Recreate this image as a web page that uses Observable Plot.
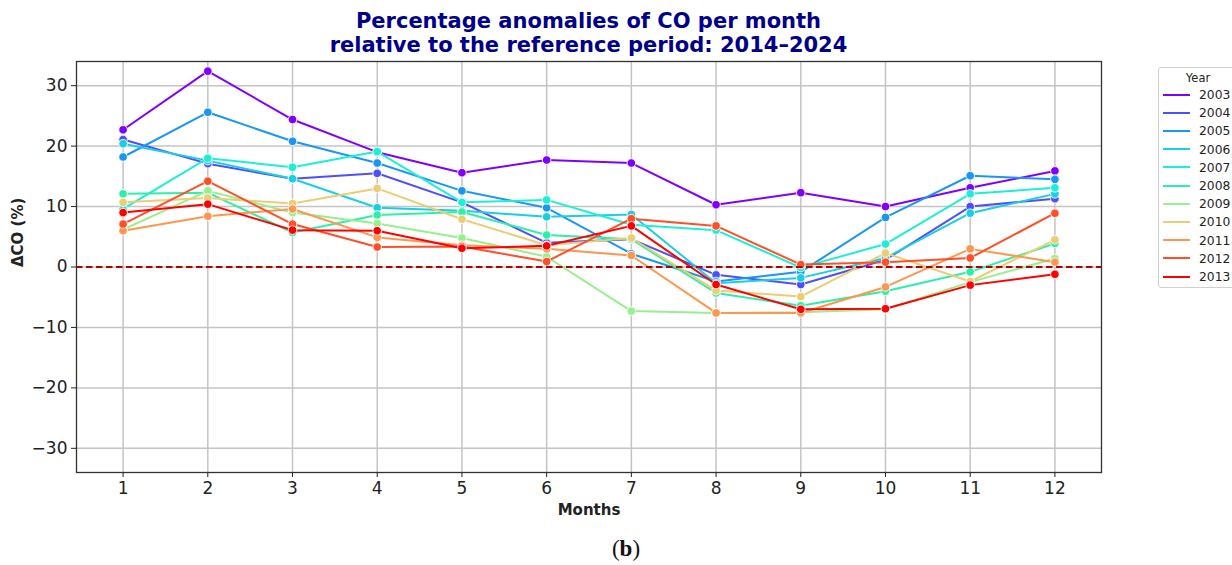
<!DOCTYPE html>
<html>
<head>
<meta charset="utf-8">
<script src="https://cdn.jsdelivr.net/npm/d3@7"></script>
<script src="https://cdn.jsdelivr.net/npm/@observablehq/plot@0.6"></script>
<style>
  html, body { margin: 0; padding: 0; background: #fff; }
  #wrap { position: relative; width: 1232px; height: 565px; overflow: hidden; font-family: "DejaVu Sans", sans-serif; }
  #title { position: absolute; top: 9px; left: 76px; width: 1025px; text-align: center; color: #00008b; font-weight: bold; font-size: 21px; line-height: 24px; }
  #chart { position: absolute; top: 58px; left: 0; }
  #legend { position: absolute; left: 1158px; top: 67px; width: 90px; height: 221px; border: 1px solid #d0d0d0; border-radius: 3px; background: #fff; box-sizing: border-box; }
  #legend .ttl { position: absolute; left: 0; width: 78px; top: 3px; text-align: center; font-size: 11.5px; color: #222; }
  #legend .item { position: absolute; left: 4px; height: 14px; font-size: 12.3px; color: #222; line-height: 14px; }
  #legend .sw { display: inline-block; width: 27px; height: 2px; vertical-align: middle; margin-right: 9px; position: relative; top: -1px; }
  #caption { position: absolute; top: 536px; left: 0; width: 1252px; text-align: center; font-family: "Liberation Serif", "Times New Roman", serif; font-size: 23px; color: #111; }
</style>
</head>
<body>
<div id="wrap">
  <div id="title">Percentage anomalies of CO per month<br>relative to the reference period: 2014–2024</div>
  <div id="chart"></div>
  <div id="legend"></div>
  <div id="caption">(<b>b</b>)</div>
</div>
<script>
// ---- data ----
const months = [1, 2, 3, 4, 5, 6, 7, 8, 9, 10, 11, 12];
const years = [2003, 2004, 2005, 2006, 2007, 2008, 2009, 2010, 2011, 2012, 2013];
const yTicks = [-30, -20, -10, 0, 10, 20, 30];

const y2003 = [22.7, 32.4, 24.4, 19.0, 15.6, 17.7, 17.2, 10.3, 12.3, 10.0, 13.1, 15.9];
const y2004 = [21.1, 17.1, 14.6, 15.5, 10.7, 4.0, 4.6, -1.3, -2.9, 1.2, 10.0, 11.3];
const y2005 = [18.2, 25.6, 20.8, 17.2, 12.6, 9.8, 2.2, -2.4, -0.8, 8.2, 15.1, 14.5];
const y2006 = [20.4, 17.6, 14.6, 9.8, 9.3, 8.3, 8.7, -2.7, -1.8, 1.5, 8.9, 12.1];
const y2007 = [9.6, 18.0, 16.5, 19.1, 10.7, 11.1, 7.0, 6.1, -0.1, 3.8, 12.1, 13.1];
const y2008 = [12.1, 12.3, 5.7, 8.6, 9.1, 5.3, 4.6, -4.3, -6.4, -4.0, -0.8, 3.9];
const y2009 = [6.2, 12.6, 9.0, 7.2, 4.8, 1.7, -7.3, -7.6, -7.5, -7.0, -2.5, 1.4];
const y2010 = [10.7, 11.4, 10.5, 13.0, 7.9, 3.6, 4.8, -3.9, -4.9, 2.3, -2.4, 4.5];
const y2011 = [6.0, 8.4, 9.6, 4.9, 3.6, 3.0, 1.9, -7.6, -7.6, -3.3, 3.0, 0.8];
const y2012 = [7.1, 14.2, 7.1, 3.3, 3.4, 0.9, 8.0, 6.8, 0.4, 0.8, 1.5, 8.9];
const y2013 = [9.0, 10.4, 6.1, 6.0, 3.1, 3.5, 6.8, -2.9, -7.0, -6.9, -3.0, -1.2];

const seriesValues = [y2003, y2004, y2005, y2006, y2007, y2008, y2009, y2010, y2011, y2012, y2013];
const colors = ["#8000ff", "#4d4ffc", "#1a96f3", "#1acee3", "#1cefd6", "#2cf0a8", "#96f08e", "#ebcd74", "#ff964f", "#ff4f28", "#ff0000"];

// ---- build table ----
const rows = years.flatMap((yr, i) =>
  seriesValues[i].map((v, j) => ({ month: months[j], year: String(yr), value: v }))
);

const seriesMarks = years.flatMap(yr => {
  const d = rows.filter(r => r.year === String(yr));
  return [
    Plot.line(d, { x: "month", y: "value", stroke: "year", strokeWidth: 2 }),
    Plot.dot(d, { x: "month", y: "value", fill: "year", stroke: "white", strokeWidth: 0.9, r: 4.3 })
  ];
});

const chart = Plot.plot({
  width: 1232,
  height: 467,
  marginTop: 3,
  marginBottom: 53,
  marginLeft: 76,
  marginRight: 131,
  style: { fontFamily: "DejaVu Sans, sans-serif", fontSize: "17px", color: "#222", background: "white" },
  x: { domain: [0.45, 12.55] },
  y: { domain: [-34, 34] },
  color: { type: "ordinal", domain: years.map(String), range: colors },
  marks: [
    Plot.gridX(months, { stroke: "#c4c4c4", strokeOpacity: 1, strokeWidth: 1.5 }),
    Plot.gridY(yTicks, { stroke: "#c4c4c4", strokeOpacity: 1, strokeWidth: 1.5 }),
    ...seriesMarks,
    Plot.ruleY([0], { stroke: "#b50000", strokeWidth: 2, strokeDasharray: "6.5,3.5" }),
    Plot.axisX(months, { tickSize: 5, tickPadding: 4, label: null, tickFormat: d => String(d), fontSize: 17 }),
    Plot.axisY(yTicks, { tickSize: 5, tickPadding: 4, label: null, tickFormat: d => (d < 0 ? "\u2212" + Math.abs(d) : String(d)), fontSize: 17 }),
    Plot.text(["Months"], { frameAnchor: "bottom", dy: 42, fontWeight: "bold", fontSize: 15 }),
    Plot.text(["ΔCO (%)"], { frameAnchor: "left", dx: -58, rotate: -90, fontWeight: "bold", fontSize: 15 }),
    Plot.frame({ stroke: "#333", strokeWidth: 1.3 })
  ]
});
document.getElementById("chart").appendChild(chart);

// ---- legend ----
const legend = document.getElementById("legend");
const ttl = document.createElement("div");
ttl.className = "ttl";
ttl.textContent = "Year";
legend.appendChild(ttl);
years.forEach((yr, i) => {
  const it = document.createElement("div");
  it.className = "item";
  it.style.top = (20 + i * 18.2) + "px";
  const sw = document.createElement("span");
  sw.className = "sw";
  sw.style.background = colors[i];
  it.appendChild(sw);
  it.appendChild(document.createTextNode(String(yr)));
  legend.appendChild(it);
});
</script>
</body>
</html>
